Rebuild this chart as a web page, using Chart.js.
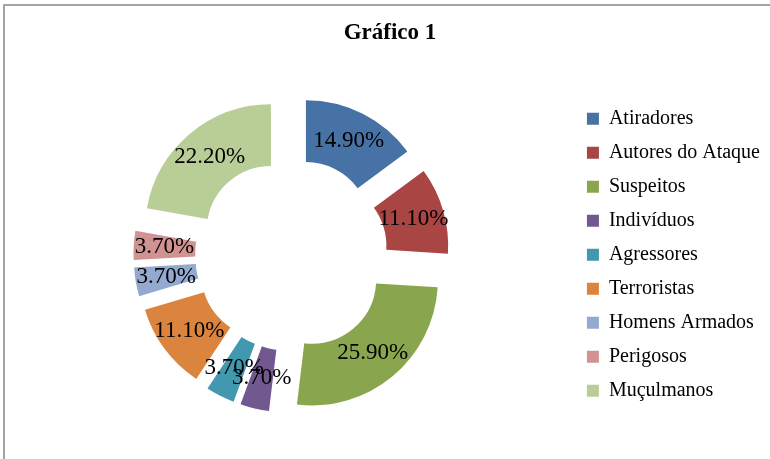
<!DOCTYPE html>
<html>
<head>
<meta charset="utf-8">
<script src="https://cdn.jsdelivr.net/npm/chart.js@4.4.1/dist/chart.umd.min.js"></script>
<style>
  html, body { margin: 0; padding: 0; background: #fff; overflow: hidden; }
  #wrap { position: relative; width: 770px; height: 459px; }
  #frame {
    position: absolute; left: 3px; top: 4px; width: 800px; height: 500px;
    border-top: 2px solid #a3a3a3; border-left: 2px solid #a3a3a3;
  }
  #chart { position: absolute; left: 0; top: 0; }
</style>
</head>
<body>
<div id="wrap">
  <div id="frame"></div>
  <canvas id="chart" width="770" height="459"></canvas>
</div>
<script>
// Chart data
const categories = ['Atiradores', 'Autores do Ataque', 'Suspeitos', 'Indivíduos', 'Agressores',
  'Terroristas', 'Homens Armados', 'Perigosos', 'Muçulmanos'];
const percentages = [14.9, 11.1, 25.9, 3.7, 3.7, 11.1, 3.7, 3.7, 22.2];
const sliceColors = ['#4672A6', '#A94644', '#89A54E', '#71588F', '#4298AF',
  '#DB843D', '#93A9CF', '#D19392', '#B9CD96'];

const EXPLODE = 32;

// Draw every slice pulled out from the centre (like an exploded Excel doughnut)
const explodePlugin = {
  id: 'explode',
  beforeDatasetDraw(chart, args) {
    const ctx = chart.ctx;
    args.meta.data.forEach(arc => {
      const mid = (arc.startAngle + arc.endAngle) / 2;
      ctx.save();
      ctx.translate(Math.cos(mid) * EXPLODE, Math.sin(mid) * EXPLODE);
      arc.draw(ctx);
      ctx.restore();
    });
    return false;
  }
};

// Percentage labels in the middle of each slice
const labelPlugin = {
  id: 'sliceLabels',
  afterDatasetsDraw(chart) {
    const ctx = chart.ctx;
    const meta = chart.getDatasetMeta(0);
    const values = chart.data.datasets[0].data;
    ctx.save();
    ctx.font = '23px "Liberation Serif", "Times New Roman", serif';
    ctx.fillStyle = '#000';
    ctx.textAlign = 'center';
    ctx.textBaseline = 'middle';
    for (let i = meta.data.length - 1; i >= 0; i--) {
      const arc = meta.data[i];
      const mid = (arc.startAngle + arc.endAngle) / 2;
      const r = (arc.innerRadius + arc.outerRadius) / 2 + EXPLODE;
      ctx.fillText(values[i].toFixed(2) + '%', arc.x + Math.cos(mid) * r, arc.y + Math.sin(mid) * r);
    }
    ctx.restore();
  }
};

new Chart(document.getElementById('chart'), {
  type: 'doughnut',
  data: {
    labels: categories,
    datasets: [{
      data: percentages,
      backgroundColor: sliceColors,
      borderWidth: 0
    }]
  },
  options: {
    responsive: false,
    animation: false,
    radius: 126,
    cutout: '51%',
    layout: {
      padding: { left: 10, right: 0, top: 0, bottom: 6 }
    },
    plugins: {
      title: {
        display: true,
        text: 'Gráfico 1',
        color: '#000',
        font: { family: '"Liberation Serif", "Times New Roman", serif', size: 23, weight: 'bold' },
        padding: { top: 19, bottom: 10 }
      },
      legend: {
        position: 'right',
        fullSize: false,
        labels: {
          color: '#000',
          font: { family: '"Liberation Serif", "Times New Roman", serif', size: 20 },
          boxWidth: 12,
          boxHeight: 12,
          padding: 14
        }
      },
      tooltip: { enabled: false }
    }
  },
  plugins: [explodePlugin, labelPlugin]
});
</script>
</body>
</html>
